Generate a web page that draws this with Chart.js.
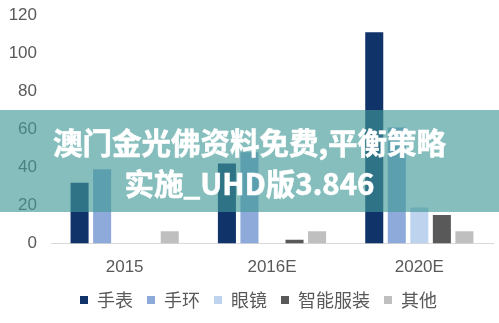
<!DOCTYPE html>
<html>
<head>
<meta charset="utf-8">
<script src="https://cdn.jsdelivr.net/npm/chart.js@4"></script>
<style>
  html, body { margin: 0; padding: 0; background: #fff; }
  #wrap { position: relative; width: 499px; height: 323px; }
  #chart { display: block; }
  .banner {
    position: absolute; left: 0; top: 110px; width: 499px; height: 102px;
    background: rgba(64, 153, 150, 0.64);
    color: #fff; text-align: center;
    font-family: "Noto Sans CJK SC", sans-serif; font-weight: 700;
    font-size: 29.5px; line-height: 41px;
    -webkit-text-stroke: 0.6px #fff;
    box-sizing: border-box; padding-top: 11px;
  }
</style>
</head>
<body>
<div id="wrap">
  <canvas id="chart" width="499" height="323"></canvas>
  <div class="banner">澳门金光佛资料免费,平衡策略<br>实施_UHD版3.846</div>
</div>
<script>
// 出货量（单位：百万）
const years = ['2015', '2016E', '2020E'];
const watch = [32, 42, 111];
const band = [39, 48, 61];
const glasses = [0, 0, 19];
const clothing = [0, 2, 15];
const others = [6.5, 6.5, 6.5];

const seriesNames = ['手表', '手环', '眼镜', '智能服装', '其他'];
const seriesColors = ['#10336a', '#8eaadb', '#bdd3ee', '#595959', '#bfbfbf'];
const yTicks = [0, 20, 40, 60, 80, 100, 120];

const textColor = '#595959';
const numFont = { family: '"Liberation Sans", Arial, sans-serif', size: 17 };

// 图例：稍微下移、右移
const legendShift = {
  id: 'legendShift',
  beforeInit(chart) {
    const fit = chart.legend.fit;
    chart.legend.fit = function () {
      fit.call(this);
      this.height -= 2;
    };
  },
  afterLayout(chart) {
    chart.legend.left += 12;
    chart.legend.right += 12;
  }
};

const ctx = document.getElementById('chart').getContext('2d');

new Chart(ctx, {
  type: 'bar',
  data: {
    labels: years,
    datasets: [watch, band, glasses, clothing, others].map((values, i) => ({
      label: seriesNames[i],
      data: values,
      backgroundColor: seriesColors[i],
      borderWidth: 0,
      categoryPercentage: 0.765,
      barPercentage: 0.8
    }))
  },
  options: {
    responsive: false,
    animation: false,
    layout: { padding: { top: 15, right: 6, bottom: 6, left: 0 } },
    plugins: {
      tooltip: { enabled: false },
      legend: {
        position: 'bottom',
        labels: {
          usePointStyle: true,
          pointStyle: 'rect',
          boxWidth: 8,
          boxHeight: 8,
          padding: 14,
          color: textColor,
          font: { family: '"Noto Sans CJK SC", sans-serif', size: 18 }
        }
      }
    },
    scales: {
      x: {
        afterFit: (scale) => { scale.height -= 15; },
        grid: { display: false, drawTicks: false },
        border: { display: true, color: '#d9d9d9', width: 1 },
        ticks: { color: textColor, font: numFont, padding: 14 }
      },
      y: {
        min: 0,
        max: 120,
        afterFit: (scale) => {
          scale.width = 51;
          scale.paddingTop = 0;
        },
        afterBuildTicks: (scale) => { scale.ticks = yTicks.map(v => ({ value: v })); },
        grid: { display: false, drawTicks: false },
        border: { display: false },
        ticks: { color: textColor, font: numFont, padding: 14 }
      }
    }
  },
  plugins: [legendShift]
});
</script>
</body>
</html>
